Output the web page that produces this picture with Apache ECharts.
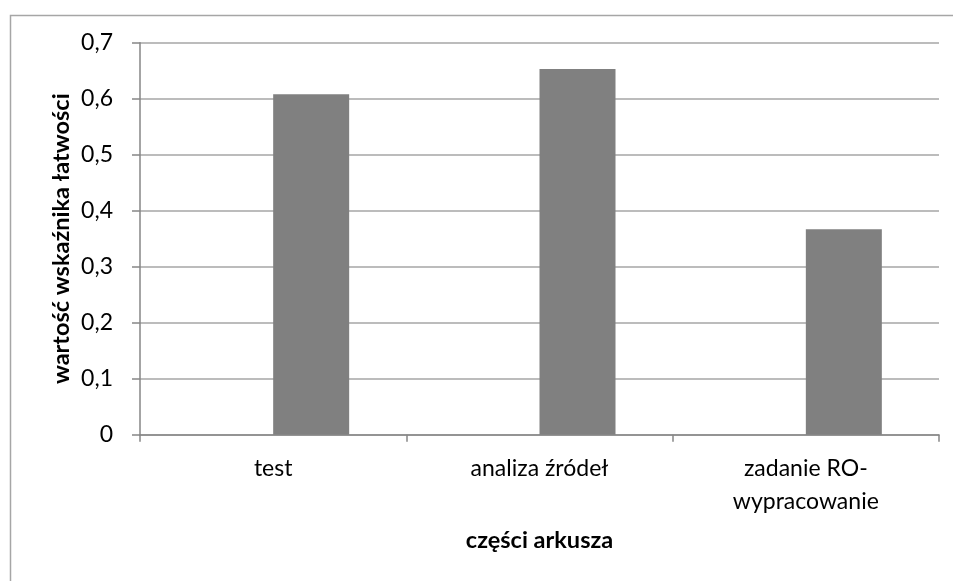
<!DOCTYPE html>
<html>
<head>
<meta charset="utf-8">
<script src="https://cdn.jsdelivr.net/npm/echarts@6/dist/echarts.min.js"></script>
<style>html,body{margin:0;padding:0;background:#fff}#c{width:953px;height:581px}</style>
</head>
<body>
<div id="c"></div>
<script>
const categories = ['test', 'analiza źródeł', 'zadanie RO-\nwypracowanie'];
const emptySeries = [null, null, null];
const values = [0.608, 0.653, 0.367];
const yTicks = { min: 0, max: 0.7, interval: 0.1 };
const yTitle = 'wartość wskaźnika łatwości';
const xTitle = 'części arkusza';

const chart = echarts.init(document.getElementById('c'), null, { renderer: 'canvas' });
const font = 'Lato, "Open Sans", sans-serif';
chart.setOption({
  animation: false,
  backgroundColor: '#fff',
  graphic: [{
    type: 'rect', left: 8, top: 13, z: -1,
    shape: { width: 1000, height: 1000 },
    style: { fill: 'none', stroke: '#a6a6a6', lineWidth: 1.5 }
  }],
  grid: { left: 140, right: 14, top: 42.7, bottom: 146.3, containLabel: false },
  xAxis: {
    type: 'category',
    data: categories,
    name: xTitle,
    nameLocation: 'middle',
    nameGap: 94,
    nameMoveOverlap: false,
    nameTextStyle: { fontFamily: font, fontSize: 23.5, fontWeight: 'bold', color: '#000' },
    axisLine: { lineStyle: { color: '#868686', width: 1.5 } },
    axisTick: { show: true, length: 7, lineStyle: { color: '#868686', width: 1.5 } },
    axisLabel: { fontFamily: font, fontSize: 23, color: '#000', margin: 17, lineHeight: 33, interval: 0 },
    splitLine: { show: false }
  },
  yAxis: {
    type: 'value',
    min: yTicks.min, max: yTicks.max, interval: yTicks.interval,
    name: yTitle,
    nameLocation: 'middle',
    nameGap: 67,
    nameMoveOverlap: false,
    nameRotate: 90,
    nameTextStyle: { fontFamily: font, fontSize: 23.5, fontWeight: 'bold', color: '#000' },
    axisLine: { show: true, lineStyle: { color: '#868686', width: 1.5 } },
    axisTick: { show: true, length: 8, lineStyle: { color: '#868686', width: 1.5 } },
    axisLabel: {
      fontFamily: font, fontSize: 23, color: '#000', margin: 27,
      formatter: v => (Math.round(v * 10) / 10).toString().replace('.', ',')
    },
    splitLine: { lineStyle: { color: '#a6a6a6', width: 1.5 } }
  },
  series: [
    { type: 'bar', data: emptySeries, barWidth: 76, barGap: '0%' },
    { type: 'bar', data: values, barWidth: 76, barGap: '0%',
      itemStyle: { color: '#808080' } }
  ]
});
</script>
</body>
</html>
